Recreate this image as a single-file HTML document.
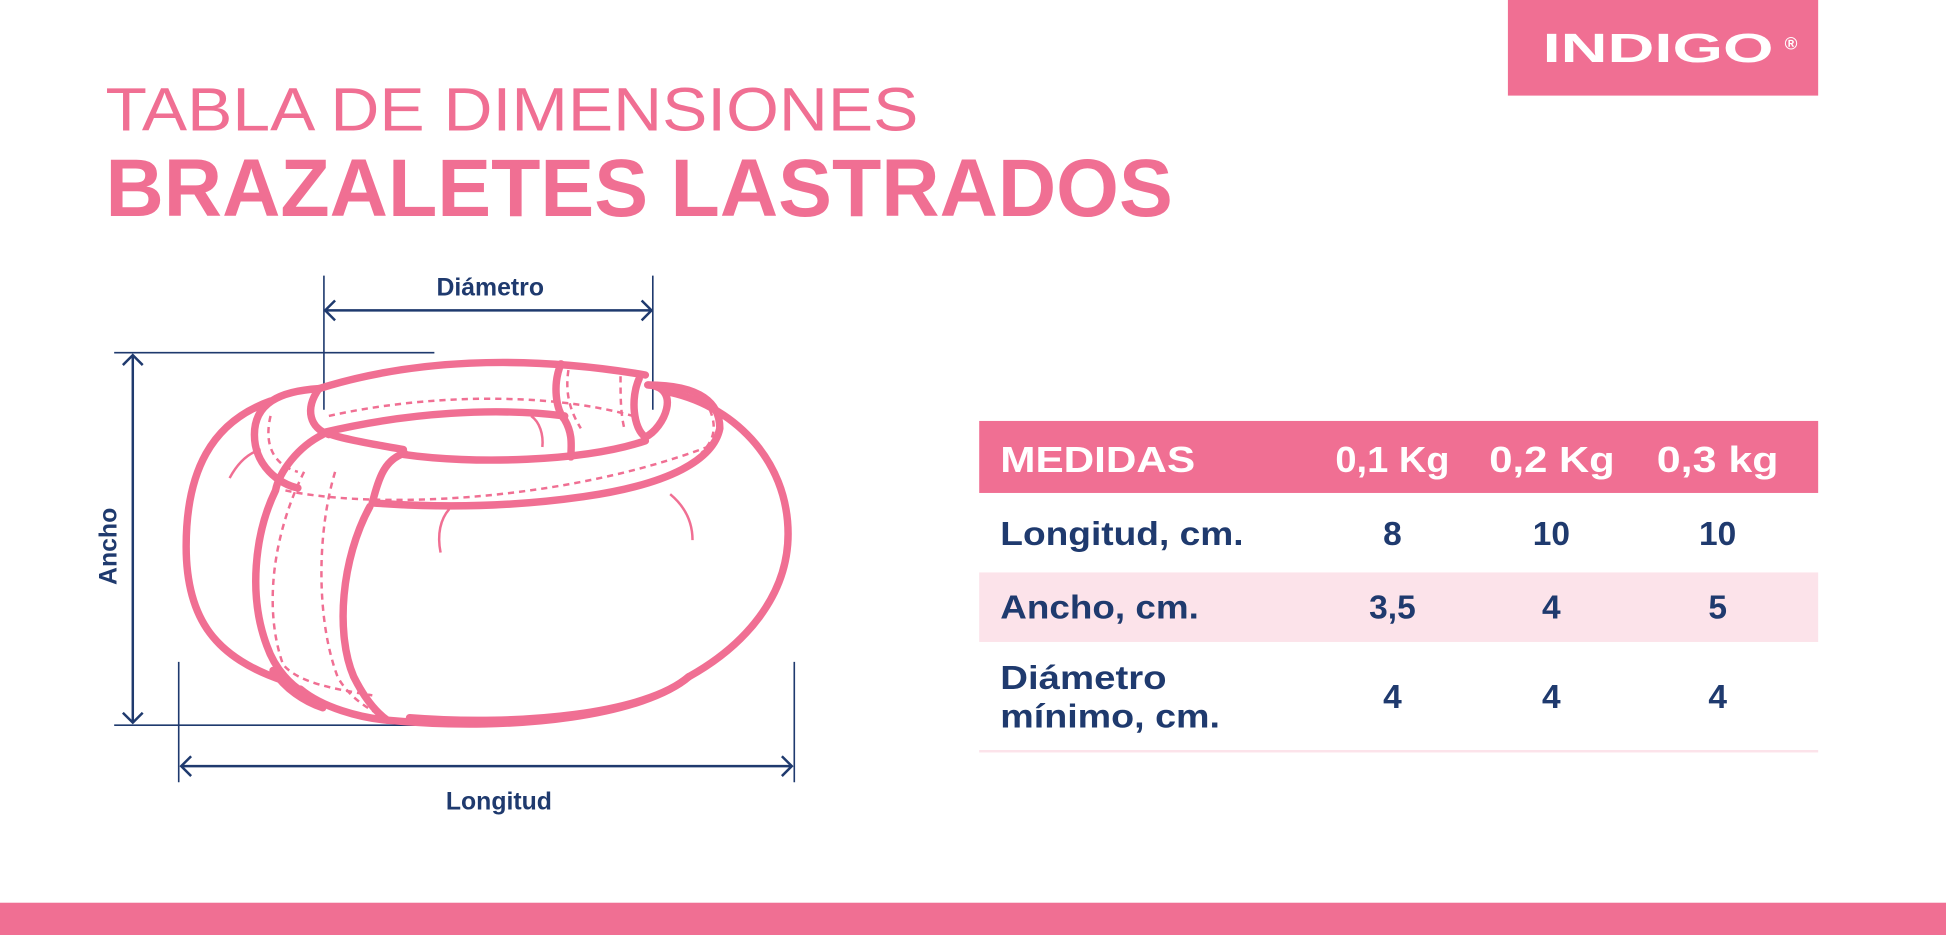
<!DOCTYPE html>
<html><head><meta charset="utf-8"><style>
html,body{margin:0;padding:0;background:#fff;}
svg{display:block;}
text{font-family:"Liberation Sans",sans-serif;}
</style></head><body>
<svg width="1946" height="935" viewBox="0 0 1568 753" preserveAspectRatio="none" xmlns="http://www.w3.org/2000/svg">
<rect x="0" y="0" width="1568" height="753" fill="#fff"/>
<rect x="1215" y="0" width="250" height="77" fill="#F06F93"/>
<text x="1243" y="50" font-size="33" font-weight="bold" fill="#fff" textLength="186" lengthAdjust="spacingAndGlyphs">INDIGO</text>
<text x="1438" y="40" font-size="14" font-weight="bold" fill="#fff">®</text>
<text x="85" y="105" font-size="49" fill="#F06F93" textLength="655" lengthAdjust="spacingAndGlyphs">TABLA DE DIMENSIONES</text>
<text x="85" y="174" font-size="66" font-weight="bold" fill="#F06F93" textLength="860" lengthAdjust="spacingAndGlyphs">BRAZALETES LASTRADOS</text>
<rect x="789" y="339" width="676" height="58" fill="#F06F93"/>
<rect x="789" y="461" width="676" height="56" fill="#FCE3EA"/>
<rect x="789" y="604" width="676" height="2" fill="#FCE3EA"/>
<g font-size="29" font-weight="bold" fill="#fff">
<text x="806" y="380" textLength="157" lengthAdjust="spacingAndGlyphs">MEDIDAS</text>
<text x="1076" y="380" textLength="92" lengthAdjust="spacingAndGlyphs">0,1 Kg</text>
<text x="1200" y="380" textLength="101" lengthAdjust="spacingAndGlyphs">0,2 Kg</text>
<text x="1335" y="380" textLength="98" lengthAdjust="spacingAndGlyphs">0,3 kg</text>
</g>
<g font-size="27" fill="#1F3A6E" font-weight="bold">
<text x="806" y="439" textLength="196" lengthAdjust="spacingAndGlyphs">Longitud, cm.</text>
<text x="1122" y="439" text-anchor="middle">8</text>
<text x="1250" y="439" text-anchor="middle">10</text>
<text x="1384" y="439" text-anchor="middle">10</text>
<text x="806" y="498" textLength="160" lengthAdjust="spacingAndGlyphs">Ancho, cm.</text>
<text x="1122" y="498" text-anchor="middle">3,5</text>
<text x="1250" y="498" text-anchor="middle">4</text>
<text x="1384" y="498" text-anchor="middle">5</text>
<text x="806" y="555" textLength="134" lengthAdjust="spacingAndGlyphs">Diámetro</text>
<text x="806" y="586" textLength="177" lengthAdjust="spacingAndGlyphs">mínimo, cm.</text>
<text x="1122" y="570" text-anchor="middle">4</text>
<text x="1250" y="570" text-anchor="middle">4</text>
<text x="1384" y="570" text-anchor="middle">4</text>
</g>
<rect x="0" y="727" width="1568" height="26" fill="#F06F93"/>
<g stroke="#1F3A6E" stroke-width="1.3" fill="none">
<line x1="261" y1="222" x2="261" y2="330"/>
<line x1="526" y1="222" x2="526" y2="330"/>
<line x1="92" y1="284" x2="350" y2="284"/>
<line x1="92" y1="584" x2="350" y2="584"/>
<line x1="144" y1="533" x2="144" y2="630"/>
<line x1="640" y1="533" x2="640" y2="630"/>
</g>
<g stroke="#1F3A6E" stroke-width="2" fill="none">
<line x1="262" y1="250" x2="525" y2="250"/><path d="M270 242 L262 250 L270 258 M517 242 L525 250 L517 258"/>
<line x1="107" y1="286" x2="107" y2="582"/><path d="M99 294 L107 286 L115 294 M99 574 L107 582 L115 574"/>
<line x1="146" y1="617" x2="638" y2="617"/><path d="M154 609 L146 617 L154 625 M630 609 L638 617 L630 625"/>
</g>
<g font-size="20" font-weight="bold" fill="#1F3A6E">
<text x="395" y="238" text-anchor="middle">Diámetro</text>
<text x="402" y="652" text-anchor="middle">Longitud</text>
<text transform="translate(94,440) rotate(-90)" text-anchor="middle">Ancho</text>
</g>
<g stroke="#F06F93" stroke-width="6" fill="none" stroke-linecap="round" stroke-linejoin="round">
<path d="M218 323 C170 340,150 380,150 440 C150 500,175 530,228 548"/>
<path d="M257 313 C225 315,205 325,205 350 C205 375,225 390,240 393"/>
<path d="M257 313 C330 290,420 285,520 302"/>
<path d="M257 313 C245 330,250 345,265 350"/>
<path d="M262 348 C330 332,400 328,455 335 M325 362 C290 356,270 352,262 348"/>
<path d="M325 366 C380 374,470 372,520 355"/>
<path d="M522 310 C550 312,535 345,520 352 C510 345,508 320,515 305"/>
<path d="M452 293 C445 310,448 330,455 338 C462 350,460 360,460 368"/>
<path d="M522 310 C565 310,580 325,580 345 C575 370,540 390,470 400 C400 410,340 408,300 405"/>
<path d="M535 315 C590 325,635 370,635 430 C635 480,600 520,555 545"/>
<path d="M298 408 C275 450,270 510,285 545 C295 565,305 575,312 580"/>
<path d="M312 580 C420 590,520 575,555 545 M242 555 C260 570,290 578,312 580"/>
<path d="M555 545 C520 575,420 585,330 578"/>
<path d="M326 365 C310 370,305 385,300 405"/>
<path d="M260 350 C240 360,225 380,222 395 C205 430,200 480,215 520 C222 540,235 552,245 558"/>
<path d="M220 540 C230 555,245 565,260 570"/>
</g>
<g stroke="#F06F93" stroke-width="2" fill="none" stroke-dasharray="5,4">
<path d="M265 335 C340 318,440 315,510 335"/>
<path d="M230 395 C300 410,450 405,570 360"/>
<path d="M245 380 C220 430,212 490,228 535 C240 550,270 555,300 560"/>
<path d="M270 380 C255 430,255 500,272 545 C280 560,295 570,305 575"/>
<path d="M218 335 C212 360,222 375,240 380"/>
<path d="M572 330 C578 345,575 355,565 365"/>
<path d="M458 298 C455 318,460 332,468 345 M500 303 C500 320,500 332,503 345"/>
</g>
<g stroke="#F06F93" stroke-width="2" fill="none">
<path d="M185 385 C192 372,200 365,210 362"/>
<path d="M355 445 C352 430,355 418,362 410"/>
<path d="M540 398 C552 408,558 420,558 435"/>
<path d="M428 335 C435 340,438 350,437 360"/>
</g>
</svg>
</body></html>
